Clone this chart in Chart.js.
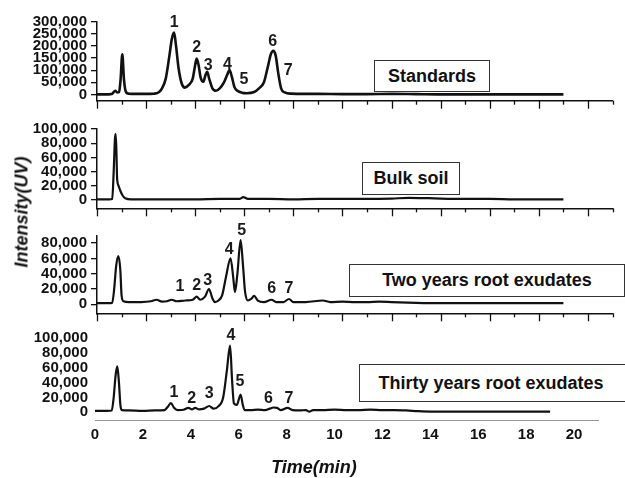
<!DOCTYPE html>
<html>
<head>
<meta charset="utf-8">
<script src="https://cdn.jsdelivr.net/npm/chart.js@4.4.0/dist/chart.umd.min.js"></script>
<style>
  html, body { margin: 0; padding: 0; background: #fff; }
  #wrap { position: relative; width: 625px; height: 478px; overflow: hidden; font-family: "Liberation Sans", Arial, sans-serif; }
  canvas { position: absolute; left: 0; top: 0; }
  .box { position: absolute; border: 1px solid #333; background: #fff; font-weight: bold; font-size: 18px; color: #111;
         display: flex; align-items: center; justify-content: center; box-sizing: border-box; white-space: nowrap; }
  .title { position: absolute; font-weight: bold; font-style: italic; font-size: 18px; color: #111; white-space: nowrap;
           transform: translate(-50%, -50%); }
</style>
</head>
<body>
<div id="wrap">
  <canvas id="c1" width="625" height="478"></canvas>
  <canvas id="c2" width="625" height="478"></canvas>
  <canvas id="c3" width="625" height="478"></canvas>
  <canvas id="c4" width="625" height="478"></canvas>

  <div class="box" style="left:374px; top:60px; width:116px; height:32px;">Standards</div>
  <div class="box" style="left:362px; top:162px; width:98px; height:33px;">Bulk soil</div>
  <div class="box" style="left:349px; top:264px; width:276px; height:33px;">Two years root exudates</div>
  <div class="box" style="left:359px; top:364px; width:270px; height:38px; padding-right:6px;">Thirty years root exudates</div>

  <div class="title" style="left:22px; top:212px; transform: translate(-50%, -50%) rotate(-90deg);">Intensity(UV)</div>
  <div class="title" style="left:314px; top:467px;">Time(min)</div>
</div>

<script>
const standardsTime = [0, 0.3, 0.6, 0.75, 0.82, 0.9, 0.96, 1.03, 1.1, 1.18, 1.3, 1.6, 2.0, 2.3, 2.5, 2.65, 2.8, 2.95, 3.05, 3.14, 3.22, 3.32, 3.45, 3.58, 3.75, 3.9, 3.98, 4.06, 4.14, 4.22, 4.33, 4.42, 4.49, 4.57, 4.7, 4.85, 5.0, 5.15, 5.3, 5.4, 5.5, 5.6, 5.72, 5.9, 6.1, 6.4, 6.6, 6.8, 6.95, 7.08, 7.18, 7.28, 7.38, 7.5, 7.65, 7.9, 8.5, 9, 10, 11, 12, 13, 14, 15, 16, 17, 18, 19];
const standardsInt = [0, 0, 2, 15, 8, 10, 60, 165, 60, 10, 3, 2, 2, 3, 8, 25, 65, 160, 230, 255, 200, 110, 45, 28, 40, 65, 110, 148, 120, 70, 52, 80, 93, 65, 25, 15, 25, 45, 80, 100, 70, 30, 15, 7, 5, 10, 25, 50, 110, 165, 180, 160, 90, 25, 8, 3, 2, 2, 1, 1, 2, 1, 0, 0, 0, 0, 0, 0];

const bulkTime = [0, 0.5, 0.62, 0.68, 0.73, 0.76, 0.79, 0.82, 0.88, 0.95, 1.05, 1.15, 1.4, 2, 3, 4, 5, 5.8, 5.96, 6.15, 7, 8, 9, 10, 11, 12, 12.7, 13.5, 14, 15, 16, 17, 18, 19];
const bulkInt = [1, 1, 1.5, 40, 85, 93, 70, 30, 20, 13, 6, 2.5, 1, 1, 1, 1, 1.5, 1.5, 4, 1.5, 1.5, 1, 1.5, 1.5, 1.5, 2, 3, 2.5, 2, 1.5, 1.5, 1, 1, 1];

const twoYearsTime = [0, 0.4, 0.62, 0.7, 0.78, 0.87, 0.95, 1.0, 1.08, 1.3, 1.8, 2.2, 2.43, 2.65, 2.85, 3.04, 3.25, 3.6, 3.9, 4.06, 4.2, 4.4, 4.56, 4.7, 4.8, 4.95, 5.1, 5.25, 5.44, 5.55, 5.62, 5.72, 5.85, 5.95, 6.03, 6.15, 6.28, 6.4, 6.55, 6.8, 7.11, 7.3, 7.6, 7.82, 8.0, 8.5, 9.2, 9.5, 10, 10.5, 11, 11.5, 12, 13, 14, 15, 16, 17, 18, 19];
const twoYearsInt = [1.5, 1.5, 2, 20, 50, 63, 45, 12, 4, 3, 3, 4, 6, 3.5, 4, 6, 4, 5, 6, 10, 6, 10, 20, 8, 3, 5, 12, 35, 60, 35, 16, 40, 84, 50, 17, 5, 7, 11, 5, 3, 6, 3, 3, 7, 3, 3, 5, 3, 3.5, 3, 3, 3.5, 3, 2, 1.5, 1.5, 1.5, 1.5, 1.5, 1.5];

const thirtyYearsTime = [0, 0.5, 0.7, 0.78, 0.86, 0.93, 1.0, 1.06, 1.12, 1.4, 2, 2.5, 2.9, 3.05, 3.17, 3.3, 3.45, 3.7, 3.9, 4.05, 4.18, 4.35, 4.55, 4.77, 4.95, 5.15, 5.35, 5.5, 5.64, 5.72, 5.8, 5.92, 6.08, 6.17, 6.25, 6.5, 6.8, 7.1, 7.3, 7.45, 7.6, 7.75, 8.04, 8.25, 8.56, 8.8, 8.95, 9.1, 9.5, 10, 10.5, 11, 11.5, 12, 12.5, 13, 13.5, 14, 15, 16, 17, 18, 19];
const thirtyYearsInt = [2, 2, 2.5, 20, 50, 62, 40, 10, 3, 2.5, 2, 2.5, 3, 8, 12.5, 6, 3, 3.5, 6, 4, 6, 4, 5, 8.5, 5, 8, 20, 55, 90, 45, 12, 10, 24, 10, 3, 3, 3.5, 3, 5, 6.5, 6, 3, 6, 3, 2.5, 3, 1, 3, 3, 3.5, 3, 3, 3.5, 3, 3, 2.5, 1.5, 1, 1, 1, 1, 1, 1];

// Valores de las marcas del eje Y (x1000)
const standardsTicks = [0, 50, 100, 150, 200, 250, 300];
const bulkTicks = [0, 20, 40, 60, 80, 100];
const twoYearsTicks = [0, 20, 40, 60, 80];
const thirtyYearsTicks = [0, 20, 40, 60, 80, 100];

// Números de pico: [tiempo, intensidad(x1000), texto]
const standardsPeaks = [[3.14, 295, '1'], [4.06, 193, '2'], [4.53, 117, '3'], [5.31, 125, '4'], [5.99, 62, '5'], [7.16, 217, '6'], [7.79, 97, '7']];
const twoYearsPeaks = [[3.38, 22.7, '1'], [4.06, 25, '2'], [4.51, 31.5, '3'], [5.39, 71, '4'], [5.89, 96, '5'], [7.12, 20.5, '6'], [7.82, 20.5, '7']];
const thirtyYearsPeaks = [[3.30, 26, '1'], [4.04, 18.5, '2'], [4.77, 25, '3'], [5.68, 103, '4'], [6.05, 41, '5'], [7.24, 18.5, '6'], [8.1, 18.5, '7']];

const FONT = '"Liberation Sans", Arial, sans-serif';

// Etiquetas de pico y marcas del eje X dibujadas con las escalas de Chart.js
const panelExtras = {
    id: 'panelExtras',
    afterDraw(chart, args, opts) {
        const ctx = chart.ctx;
        const x = chart.scales.x, y = chart.scales.y;
        ctx.save();
        if (opts.xTicks) {
            const yb = chart.chartArea.bottom;
            ctx.strokeStyle = '#111';
            ctx.lineWidth = 1.3;
            for (let t = 0; t <= 21; t++) {
                const px = Math.round(x.getPixelForValue(t)) + 0.5;
                ctx.beginPath();
                ctx.moveTo(px, yb);
                ctx.lineTo(px, yb + (t % 2 === 0 ? 8 : 4));
                ctx.stroke();
            }
        }
        ctx.fillStyle = '#1a1a1a';
        ctx.font = 'bold 16px ' + FONT;
        ctx.textAlign = 'center';
        ctx.textBaseline = 'middle';
        (opts.peaks || []).forEach(p => {
            ctx.fillText(p[2], x.getPixelForValue(p[0]), y.getPixelForValue(p[1]));
        });
        ctx.restore();
    }
};

function makePanel(id, cfg) {
    const points = cfg.time.map((t, i) => ({ x: t, y: cfg.value[i] }));
    return new Chart(document.getElementById(id), {
        type: 'line',
        data: {
            datasets: [{
                data: points,
                borderColor: '#111',
                borderWidth: cfg.lw,
                pointRadius: 0,
                cubicInterpolationMode: 'monotone',
                fill: false
            }]
        },
        options: {
            responsive: false,
            animation: false,
            events: [],
            layout: { padding: { left: 0, right: 625 - cfg.right, top: cfg.top, bottom: 478 - cfg.bottom - cfg.xh } },
            plugins: {
                legend: { display: false },
                tooltip: { enabled: false },
                panelExtras: { xTicks: !cfg.last, peaks: cfg.peaks }
            },
            scales: {
                x: {
                    type: 'linear', min: 0, max: 21,
                    border: { display: true, color: cfg.last ? '#999' : '#111', width: cfg.last ? 1 : 1.5 },
                    grid: { display: false, drawTicks: false },
                    ticks: {
                        display: !!cfg.last, stepSize: 1, autoSkip: false, maxRotation: 0, padding: 6,
                        color: '#111', font: { family: FONT, size: 15, weight: 'bold' },
                        callback: v => (v % 2 === 0 ? String(v) : '')
                    },
                    afterFit: s => { s.height = cfg.xh; }
                },
                y: {
                    min: cfg.min, max: cfg.max,
                    border: { display: !cfg.last, color: '#111', width: 1.5 },
                    grid: { display: !cfg.last, drawOnChartArea: false, drawTicks: true, tickLength: 6, color: '#111', lineWidth: 1.3 },
                    ticks: {
                        autoSkip: false, padding: cfg.last ? 1 : 4,
                        color: '#111', font: { family: FONT, size: 15, weight: 'bold' },
                        callback: v => (v * 1000).toLocaleString('en-US')
                    },
                    afterBuildTicks: s => { s.ticks = cfg.ticks.map(v => ({ value: v })); },
                    afterFit: s => { s.width = cfg.left; }
                }
            }
        },
        plugins: [panelExtras]
    });
}

makePanel('c1', { time: standardsTime, value: standardsInt, peaks: standardsPeaks, ticks: standardsTicks, lw: 2.6,
    left: 97, right: 612.5, top: 21.7, bottom: 100.7, xh: 0, min: -26, max: 300 });
makePanel('c2', { time: bulkTime, value: bulkInt, peaks: [], ticks: bulkTicks, lw: 2.2,
    left: 97, right: 612.5, top: 129, bottom: 208.3, xh: 0, min: -11.7, max: 100 });
makePanel('c3', { time: twoYearsTime, value: twoYearsInt, peaks: twoYearsPeaks, ticks: twoYearsTicks, lw: 2.2,
    left: 97, right: 612.5, top: 235.4, bottom: 313.3, xh: 0, min: -11.7, max: 90 });
makePanel('c4', { time: thirtyYearsTime, value: thirtyYearsInt, peaks: thirtyYearsPeaks, ticks: thirtyYearsTicks, lw: 2.2, last: true,
    left: 95, right: 598, top: 338.3, bottom: 420, xh: 26, min: -10.4, max: 100 });
</script>
</body>
</html>
